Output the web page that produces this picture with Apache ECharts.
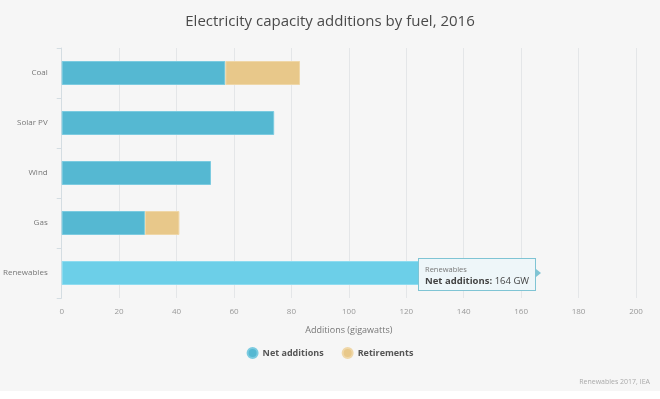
<!DOCTYPE html>
<html>
<head>
<meta charset="utf-8">
<script src="https://cdn.jsdelivr.net/npm/echarts@6/dist/echarts.min.js"></script>
<style>
  html, body { margin: 0; padding: 0; background: #ffffff; }
  #chart { width: 660px; height: 391px; background: #f6f6f6; }
</style>
</head>
<body>
<div id="chart"></div>
<script>
// data
let fuels = ['Coal', 'Solar PV', 'Wind', 'Gas', 'Renewables'];
let net_additions = [57, 74, 52, 29, 164];
let retirements = [26, 0, 0, 12, 0];
let x_ticks = [0, 20, 40, 60, 80, 100, 120, 140, 160, 180, 200];

let font = '"Open Sans", "Noto Sans", sans-serif';

function net_data() {
  let out = [];
  for (let i = 0; i < fuels.length; i++) {
    let item = { value: net_additions[i] };
    if (fuels[i] == 'Renewables') {
      item.itemStyle = { color: '#6ccfe8', borderColor: '#8fdcf0' };
    }
    out.push(item);
  }
  return out;
}

// zero retirements are left out so no sliver is drawn
function ret_data() {
  return retirements.map(function (v) { return v == 0 ? '-' : v; });
}

let myChart = echarts.init(document.getElementById('chart'));

let option = {
  animation: false,
  backgroundColor: '#f6f6f6',
  textStyle: { fontFamily: font },
  title: {
    text: 'Electricity capacity additions by fuel, 2016',
    left: 'center',
    top: 9,
    textStyle: { fontFamily: font, fontSize: 15, fontWeight: 'normal', color: '#4a4a4a' }
  },
  tooltip: {
    trigger: 'item',
    triggerOn: 'none',
    alwaysShowContent: true,
    backgroundColor: '#eef6f9',
    borderColor: '#7fc4d4',
    borderWidth: 1,
    padding: [4, 6, 3, 6],
    extraCssText: 'border-radius:0;box-shadow:none;overflow:visible;',
    position: function () { return [418, 258]; },
    formatter: function (p) {
      return '<div style="position:relative;font-family:' + font.replace(/"/g, "'") + ';line-height:12px;">' +
        '<div style="font-size:7.5px;color:#777;">' + p.name + '</div>' +
        '<div style="font-size:9.5px;color:#444;"><b>Net additions:</b> ' + p.value + ' GW</div>' +
        '<div style="position:absolute;right:-12px;top:6px;width:0;height:0;border-top:4px solid transparent;' +
        'border-bottom:4px solid transparent;border-left:5px solid #7fc4d4;"></div>' +
        '</div>';
    }
  },
  legend: {
    data: ['Net additions', 'Retirements'],
    bottom: 27,
    left: 'center',
    icon: 'circle',
    itemWidth: 10,
    itemHeight: 10,
    itemGap: 18,
    textStyle: { fontFamily: font, fontSize: 9, fontWeight: 'bold', color: '#555' }
  },
  grid: { left: 61, right: 24, top: 48, bottom: 93 },
  xAxis: {
    type: 'value',
    min: x_ticks[0],
    max: x_ticks[x_ticks.length - 1],
    interval: 20,
    name: 'Additions (gigawatts)',
    nameLocation: 'middle',
    nameGap: 28,
    nameTextStyle: { fontFamily: font, fontSize: 9, color: '#777' },
    axisLine: { show: false },
    axisTick: { show: false },
    axisLabel: { fontSize: 8, color: '#999', margin: 10 },
    splitLine: { lineStyle: { color: '#e4e6e8', width: 1 } }
  },
  yAxis: {
    type: 'category',
    data: fuels,
    inverse: true,
    axisLine: { lineStyle: { color: '#d4dde2' } },
    axisTick: { show: true, length: 5, lineStyle: { color: '#d4dde2' } },
    axisLabel: { fontSize: 8, color: '#777', margin: 14 }
  },
  series: [
    {
      name: 'Net additions',
      type: 'bar',
      stack: 'total',
      barWidth: 24,
      data: net_data(),
      itemStyle: { color: '#55b8d2', borderColor: '#7ccbe0', borderWidth: 1 },
      emphasis: { disabled: true }
    },
    {
      name: 'Retirements',
      type: 'bar',
      stack: 'total',
      barWidth: 24,
      data: ret_data(),
      itemStyle: { color: '#e8c88a', borderColor: '#efd7a8', borderWidth: 1 },
      emphasis: { disabled: true }
    }
  ],
  color: ['#55b8d2', '#e8c88a'],
  graphic: [
    {
      type: 'text',
      right: 10,
      bottom: 6,
      style: { text: 'Renewables 2017, IEA', font: '7px ' + font, fill: '#aaa' }
    }
  ]
};

myChart.clear();
myChart.setOption(option);
myChart.dispatchAction({ type: 'showTip', seriesIndex: 0, dataIndex: 4 });
</script>
</body>
</html>
